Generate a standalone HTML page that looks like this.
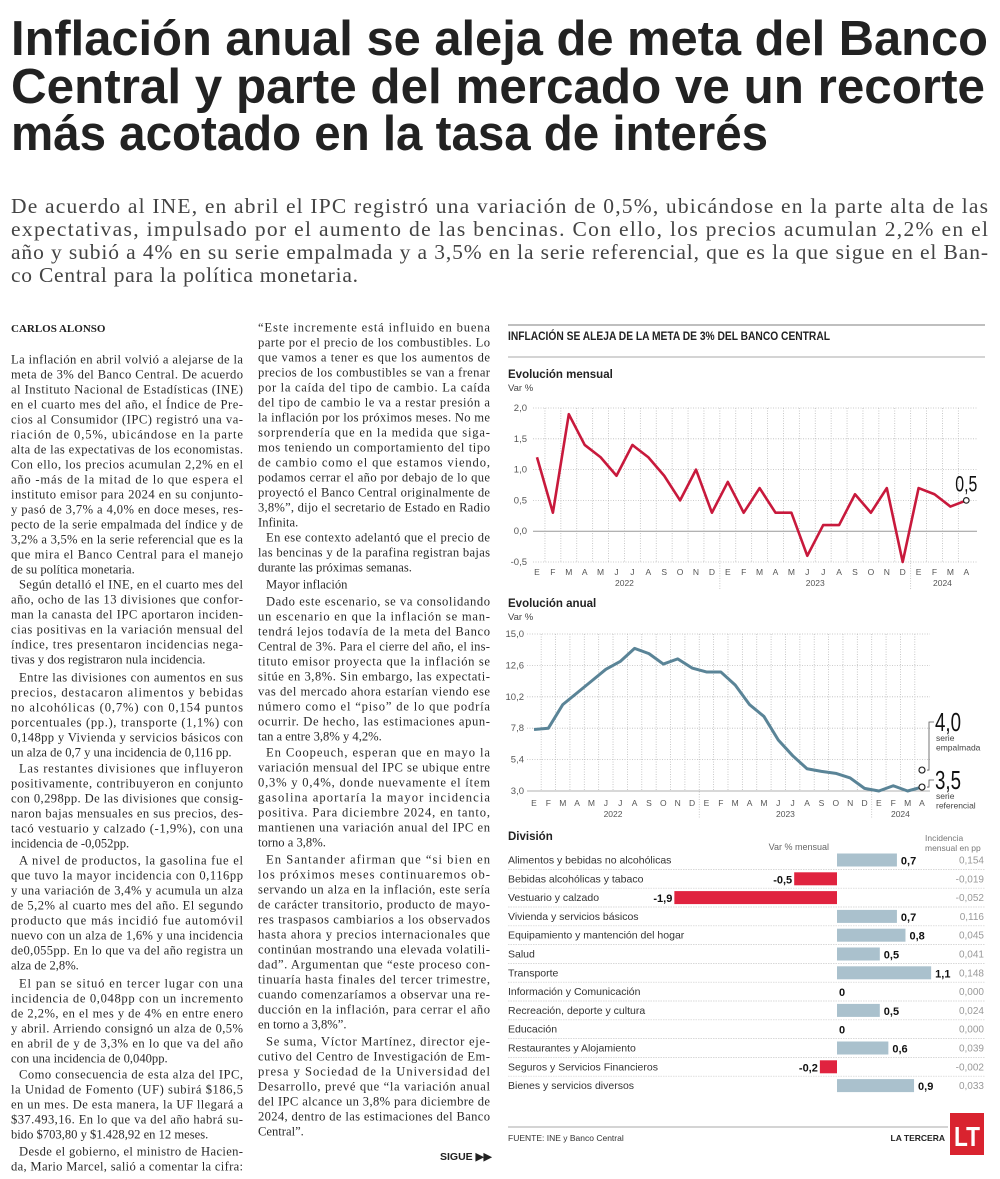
<!DOCTYPE html>
<html lang="es">
<head>
<meta charset="utf-8">
<style>
  html,body{margin:0;padding:0;background:#fff;}
  body{width:1000px;height:1179px;position:relative;overflow:hidden;font-family:"Liberation Sans",sans-serif;}
  svg{position:absolute;left:0;top:0;}
  .serif{font-family:"Liberation Serif",serif;}
  .body text{font-family:"Liberation Serif",serif;font-size:12.6px;fill:#2a2a2a;}
</style>
</head>
<body>
<svg id="page" width="1000" height="1179" viewBox="0 0 1000 1179">
  <!-- Headline -->
  <g font-family="Liberation Sans, sans-serif" font-weight="bold" font-size="49" fill="#222">
    <text x="11" y="55" textLength="977" lengthAdjust="spacingAndGlyphs">Inflación anual se aleja de meta del Banco</text>
    <text x="11" y="103" textLength="974" lengthAdjust="spacingAndGlyphs">Central y parte del mercado ve un recorte</text>
    <text x="11" y="150" textLength="757" lengthAdjust="spacingAndGlyphs">más acotado en la tasa de interés</text>
  </g>
  <!-- Subtitle -->
  <g font-family="Liberation Serif, serif" font-size="21.5" fill="#444">
    <text x="11" y="213" textLength="977" lengthAdjust="spacing">De acuerdo al INE, en abril el IPC registró una variación de 0,5%, ubicándose en la parte alta de las</text>
    <text x="11" y="236" textLength="977" lengthAdjust="spacing">expectativas, impulsado por el aumento de las bencinas. Con ello, los precios acumulan 2,2% en el</text>
    <text x="11" y="259" textLength="977" lengthAdjust="spacing">año y subió a 4% en su serie empalmada y a 3,5% en la serie referencial, que es la que sigue en el Ban-</text>
    <text x="11" y="282" textLength="347" lengthAdjust="spacing">co Central para la política monetaria.</text>
  </g>

  <text x="11" y="332" font-family="Liberation Serif, serif" font-size="11" font-weight="bold" fill="#222">CARLOS ALONSO</text>

  <!-- Column 1 -->
  <g class="body" id="col1" data-x="11" data-w="232">
    <g data-y="359" data-ind="0">
      <text>La inflación en abril volvió a alejarse de la</text>
      <text>meta de 3% del Banco Central. De acuerdo</text>
      <text>al Instituto Nacional de Estadísticas (INE)</text>
      <text>en el cuarto mes del año, el Índice de Pre-</text>
      <text>cios al Consumidor (IPC) registró una va-</text>
      <text>riación de 0,5%, ubicándose en la parte</text>
      <text>alta de las expectativas de los economistas.</text>
      <text>Con ello, los precios acumulan 2,2% en el</text>
      <text>año -más de la mitad de lo que espera el</text>
      <text>instituto emisor para 2024 en su conjunto-</text>
      <text>y pasó de 3,7% a 4,0% en doce meses, res-</text>
      <text>pecto de la serie empalmada del índice y de</text>
      <text>3,2% a 3,5% en la serie referencial que es la</text>
      <text>que mira el Banco Central para el manejo</text>
      <text>de su política monetaria.</text>
    </g>
    <g data-y="584" data-ind="8">
      <text>Según detalló el INE, en el cuarto mes del</text>
      <text>año, ocho de las 13 divisiones que confor-</text>
      <text>man la canasta del IPC aportaron inciden-</text>
      <text>cias positivas en la variación mensual del</text>
      <text>índice, tres presentaron incidencias nega-</text>
      <text>tivas y dos registraron nula incidencia.</text>
    </g>
    <g data-y="677" data-ind="8">
      <text>Entre las divisiones con aumentos en sus</text>
      <text>precios, destacaron alimentos y bebidas</text>
      <text>no alcohólicas (0,7%) con 0,154 puntos</text>
      <text>porcentuales (pp.), transporte (1,1%) con</text>
      <text>0,148pp y Vivienda y servicios básicos con</text>
      <text>un alza de 0,7 y una incidencia de 0,116 pp.</text>
    </g>
    <g data-y="768" data-ind="8">
      <text>Las restantes divisiones que influyeron</text>
      <text>positivamente, contribuyeron en conjunto</text>
      <text>con 0,298pp. De las divisiones que consig-</text>
      <text>naron bajas mensuales en sus precios, des-</text>
      <text>tacó vestuario y calzado (-1,9%), con una</text>
      <text>incidencia de -0,052pp.</text>
    </g>
    <g data-y="860" data-ind="8">
      <text>A nivel de productos, la gasolina fue el</text>
      <text>que tuvo la mayor incidencia con 0,116pp</text>
      <text>y una variación de 3,4% y acumula un alza</text>
      <text>de 5,2% al cuarto mes del año. El segundo</text>
      <text>producto que más incidió fue automóvil</text>
      <text>nuevo con un alza de 1,6% y una incidencia</text>
      <text>de0,055pp. En lo que va del año registra un</text>
      <text>alza de 2,8%.</text>
    </g>
    <g data-y="983" data-ind="8">
      <text>El pan se situó en tercer lugar con una</text>
      <text>incidencia de 0,048pp con un incremento</text>
      <text>de 2,2%, en el mes y de 4% en entre enero</text>
      <text>y abril. Arriendo consignó un alza de 0,5%</text>
      <text>en abril de y de 3,3% en lo que va del año</text>
      <text>con una incidencia de 0,040pp.</text>
    </g>
    <g data-y="1074" data-ind="8">
      <text>Como consecuencia de esta alza del IPC,</text>
      <text>la Unidad de Fomento (UF) subirá $186,5</text>
      <text>en un mes. De esta manera, la UF llegará a</text>
      <text>$37.493,16. En lo que va del año habrá su-</text>
      <text>bido $703,80 y $1.428,92 en 12 meses.</text>
    </g>
    <g data-y="1151" data-ind="8" data-lastjust="1">
      <text>Desde el gobierno, el ministro de Hacien-</text>
      <text>da, Mario Marcel, salió a comentar la cifra:</text>
    </g>
  </g>

  <!-- Column 2 -->
  <g class="body" id="col2" data-x="258" data-w="232">
    <g data-y="327" data-ind="0">
      <text>“Este incremente está influido en buena</text>
      <text>parte por el precio de los combustibles. Lo</text>
      <text>que vamos a tener es que los aumentos de</text>
      <text>precios de los combustibles se van a frenar</text>
      <text>por la caída del tipo de cambio. La caída</text>
      <text>del tipo de cambio le va a restar presión a</text>
      <text>la inflación por los próximos meses. No me</text>
      <text>sorprendería que en la medida que siga-</text>
      <text>mos teniendo un comportamiento del tipo</text>
      <text>de cambio como el que estamos viendo,</text>
      <text>podamos cerrar el año por debajo de lo que</text>
      <text>proyectó el Banco Central originalmente de</text>
      <text>3,8%”, dijo el secretario de Estado en Radio</text>
      <text>Infinita.</text>
    </g>
    <g data-y="537" data-ind="8">
      <text>En ese contexto adelantó que el precio de</text>
      <text>las bencinas y de la parafina registran bajas</text>
      <text>durante las próximas semanas.</text>
    </g>
    <g data-y="584" data-ind="8">
      <text>Mayor inflación</text>
    </g>
    <g data-y="601" data-ind="8">
      <text>Dado este escenario, se va consolidando</text>
      <text>un escenario en que la inflación se man-</text>
      <text>tendrá lejos todavía de la meta del Banco</text>
      <text>Central de 3%. Para el cierre del año, el ins-</text>
      <text>tituto emisor proyecta que la inflación se</text>
      <text>sitúe en 3,8%. Sin embargo, las expectati-</text>
      <text>vas del mercado ahora estarían viendo ese</text>
      <text>número como el “piso” de lo que podría</text>
      <text>ocurrir. De hecho, las estimaciones apun-</text>
      <text>tan a entre 3,8% y 4,2%.</text>
    </g>
    <g data-y="752" data-ind="8">
      <text>En Coopeuch, esperan que en mayo la</text>
      <text>variación mensual del IPC se ubique entre</text>
      <text>0,3% y 0,4%, donde nuevamente el ítem</text>
      <text>gasolina aportaría la mayor incidencia</text>
      <text>positiva. Para diciembre 2024, en tanto,</text>
      <text>mantienen una variación anual del IPC en</text>
      <text>torno a 3,8%.</text>
    </g>
    <g data-y="859" data-ind="8">
      <text>En Santander afirman que “si bien en</text>
      <text>los próximos meses continuaremos ob-</text>
      <text>servando un alza en la inflación, este sería</text>
      <text>de carácter transitorio, producto de mayo-</text>
      <text>res traspasos cambiarios a los observados</text>
      <text>hasta ahora y precios internacionales que</text>
      <text>continúan mostrando una elevada volatili-</text>
      <text>dad”. Argumentan que “este proceso con-</text>
      <text>tinuaría hasta finales del tercer trimestre,</text>
      <text>cuando comenzaríamos a observar una re-</text>
      <text>ducción en la inflación, para cerrar el año</text>
      <text>en torno a 3,8%”.</text>
    </g>
    <g data-y="1041" data-ind="8">
      <text>Se suma, Víctor Martínez, director eje-</text>
      <text>cutivo del Centro de Investigación de Em-</text>
      <text>presa y Sociedad de la Universidad del</text>
      <text>Desarrollo, prevé que “la variación anual</text>
      <text>del IPC alcance un 3,8% para diciembre de</text>
      <text>2024, dentro de las estimaciones del Banco</text>
      <text>Central”.</text>
    </g>
  </g>

  <!-- SIGUE -->
  <text x="440" y="1160" font-size="10.5" font-weight="bold" fill="#222">SIGUE ▶▶</text>

  <!-- Chart panel header -->
  <line x1="508" y1="325" x2="985" y2="325" stroke="#999" stroke-width="1.2"/>
  <text x="508" y="340" font-size="11.5" font-weight="bold" fill="#222" textLength="322" lengthAdjust="spacingAndGlyphs">INFLACIÓN SE ALEJA DE LA META DE 3% DEL BANCO CENTRAL</text>
  <line x1="508" y1="357" x2="985" y2="357" stroke="#aaa" stroke-width="1"/>

  <g id="monthly"></g>
  <g id="annual"></g>
  <g id="bars"></g>

  <!-- Footer -->
  <line x1="508" y1="1127" x2="948" y2="1127" stroke="#aaa" stroke-width="1"/>
  <text x="508" y="1141" font-size="8.5" fill="#333">FUENTE: INE y Banco Central</text>
  <text x="945" y="1141" font-size="8.5" font-weight="bold" fill="#222" text-anchor="end">LA TERCERA</text>
  <g>
    <rect x="950" y="1113" width="34" height="42" fill="#d9232f"/>
    <text x="967" y="1146" font-size="28" font-weight="bold" fill="#fff" text-anchor="middle" textLength="26" lengthAdjust="spacingAndGlyphs">LT</text>
  </g>
</svg>

<script>
// ---------- Monthly chart data ----------
const monthLabels = ["E","F","M","A","M","J","J","A","S","O","N","D","E","F","M","A","M","J","J","A","S","O","N","D","E","F","M","A"];
const yearLabels = ["2022","2023","2024"];
const monthlyValues = [1.2,0.3,1.9,1.4,1.2,0.9,1.4,1.2,0.9,0.5,1.0,0.3,0.8,0.3,0.7,0.3,0.3,-0.4,0.1,0.1,0.6,0.3,0.7,-0.5,0.7,0.6,0.4,0.5];
const monthlyTicks = [2.0,1.5,1.0,0.5,0.0,-0.5];
const monthlyTickLabels = ["2,0","1,5","1,0","0,5","0,0","-0,5"];
const monthlyLastLabel = "0,5";

// ---------- Annual chart data ----------
const annualValues = [7.7,7.8,9.6,10.5,11.4,12.3,12.9,13.9,13.5,12.7,13.1,12.4,12.1,12.1,11.1,9.6,8.7,6.9,5.7,4.7,4.5,4.35,4.0,3.2,3.0,3.4,3.0,3.3];
const annualTicks = [15.0,12.6,10.2,7.8,5.4,3.0];
const annualTickLabels = ["15,0","12,6","10,2","7,8","5,4","3,0"];
const annualEndMarkers = [4.6,3.3];
const annualEndLabels = ["4,0","3,5"];
const annualEndNotes = [["serie","empalmada"],["serie","referencial"]];

// ---------- Division bar data ----------
const divisions = ["Alimentos y bebidas no alcohólicas","Bebidas alcohólicas y tabaco","Vestuario y calzado","Vivienda y servicios básicos","Equipamiento y mantención del hogar","Salud","Transporte","Información y Comunicación","Recreación, deporte y cultura","Educación","Restaurantes y Alojamiento","Seguros y Servicios Financieros","Bienes y servicios diversos"];
const divisionValues = [0.7,-0.5,-1.9,0.7,0.8,0.5,1.1,0,0.5,0,0.6,-0.2,0.9];
const divisionValueLabels = ["0,7","-0,5","-1,9","0,7","0,8","0,5","1,1","0","0,5","0","0,6","-0,2","0,9"];
const divisionIncidence = ["0,154","-0,019","-0,052","0,116","0,045","0,041","0,148","0,000","0,024","0,000","0,039","-0,002","0,033"];

const NS = "http://www.w3.org/2000/svg";
function mk(parent, tag, attrs, txt){
  const e = document.createElementNS(NS, tag);
  for (const k in attrs) e.setAttribute(k, attrs[k]);
  if (txt !== undefined) e.textContent = txt;
  parent.appendChild(e);
  return e;
}

// ---------- Body text layout ----------
["col1","col2"].forEach(id=>{
  const col = document.getElementById(id);
  const x0 = +col.dataset.x, w = +col.dataset.w;
  col.querySelectorAll(":scope > g").forEach(p=>{
    const y0 = +p.dataset.y, ind = +p.dataset.ind;
    const lines = p.querySelectorAll("text");
    const lastJust = p.dataset.lastjust === "1";
    lines.forEach((t,i)=>{
      const x = x0 + (i===0 ? ind : 0);
      t.setAttribute("x", x);
      t.setAttribute("y", y0 + i*15 + 4.5);
      if (i < lines.length-1 || lastJust){
        t.setAttribute("textLength", (x0 + w) - x);
        t.setAttribute("lengthAdjust", "spacing");
      }
    });
  });
});

// ---------- Monthly chart ----------
(function(){
  const g = document.getElementById("monthly");
  mk(g,"text",{x:508,y:378,"font-size":11.5,"font-weight":"bold",fill:"#222"},"Evolución mensual");
  mk(g,"text",{x:508,y:391,"font-size":9.5,fill:"#444"},"Var %");
  const x0 = 537, dx = 15.9;
  const X = i => x0 + i*dx;
  const Y = v => 408 + (2.0 - v) * (154/2.5);
  const left = 533, right = 977;
  // vertical grid
  for (let i=0;i<monthLabels.length;i++){
    const xv = X(i)+dx/2;
    if (i === monthLabels.length-1) continue;
    const yearSep = (i===11 || i===23);
    const l = mk(g,"line",{x1:xv,y1:Y(2.0),x2:xv,y2:yearSep?589:Y(-0.5),stroke:"#bbb","stroke-width":0.8,"stroke-dasharray":"1,1.5"});
    
    
  }
  monthlyTicks.forEach((t,i)=>{
    const l = mk(g,"line",{x1:left,y1:Y(t),x2:right,y2:Y(t),stroke:t===0?"#999":"#bbb","stroke-width":t===0?1:0.8,"stroke-dasharray":t===0?"none":"1,1.5"});
    
    
    const tx = mk(g,"text",{x:527,y:Y(t)+3,"font-size":9.5,fill:"#555","text-anchor":"end"},monthlyTickLabels[i]);
    
    
  });
  monthLabels.forEach((m,i)=>{
    const tx = mk(g,"text",{x:X(i),y:575,"font-size":8.5,fill:"#555","text-anchor":"middle"},m);
    
    
  });
  [[0,11],[12,23],[24,27]].forEach((r,k)=>{
    const tx = mk(g,"text",{x:(X(r[0])+X(r[1]))/2,y:586,"font-size":8.5,fill:"#555","text-anchor":"middle"},yearLabels[k]);
    
    
  });
  const pts = monthlyValues.map((v,i)=>X(i)+","+Y(v)).join(" ");
  const pl = mk(g,"polyline",{points:pts,fill:"none",stroke:"#c8193c","stroke-width":2.6,"stroke-linejoin":"round"});
  
  
  const n = monthlyValues.length-1;
  const c = mk(g,"circle",{cx:X(n),cy:Y(monthlyValues[n]),r:2.8,fill:"#fff",stroke:"#222","stroke-width":1.2});
  
  
  const lt = mk(g,"text",{x:X(n),y:Y(monthlyValues[n])-9,"font-size":22,fill:"#111","text-anchor":"middle",textLength:22,lengthAdjust:"spacingAndGlyphs"},monthlyLastLabel);
  
  
})();

// ---------- Annual chart ----------
(function(){
  const g = document.getElementById("annual");
  mk(g,"text",{x:508,y:607,"font-size":11.5,"font-weight":"bold",fill:"#222"},"Evolución anual");
  mk(g,"text",{x:508,y:620,"font-size":9.5,fill:"#444"},"Var %");
  const x0 = 534, dx = 14.37;
  const X = i => x0 + i*dx;
  const Y = v => 634 + (15 - v) * (157/12);
  const left = 527, right = 930;
  for (let i=0;i<monthLabels.length-1;i++){
    const xv = X(i)+dx/2;
    const yearSep = (i===11 || i===23);
    const l = mk(g,"line",{x1:xv,y1:Y(15),x2:xv,y2:yearSep?818:Y(3),stroke:"#bbb","stroke-width":0.8,"stroke-dasharray":"1,1.5"});
    
    
  }
  annualTicks.forEach((t,i)=>{
    const l = mk(g,"line",{x1:left,y1:Y(t),x2:right,y2:Y(t),stroke:i===annualTicks.length-1?"#999":"#bbb","stroke-width":0.8,"stroke-dasharray":i===annualTicks.length-1?"none":"1,1.5"});
    
    
    const tx = mk(g,"text",{x:524,y:Y(t)+3,"font-size":9.5,fill:"#555","text-anchor":"end"},annualTickLabels[i]);
    
    
  });
  monthLabels.forEach((m,i)=>{
    const tx = mk(g,"text",{x:X(i),y:806,"font-size":8.5,fill:"#555","text-anchor":"middle"},m);
    
    
  });
  [[0,11],[12,23],[24,27]].forEach((r,k)=>{
    const tx = mk(g,"text",{x:(X(r[0])+X(r[1]))/2,y:817,"font-size":8.5,fill:"#555","text-anchor":"middle"},yearLabels[k]);
    
    
  });
  const pts = annualValues.map((v,i)=>X(i)+","+Y(v)).join(" ");
  const pl = mk(g,"polyline",{points:pts,fill:"none",stroke:"#5a8497","stroke-width":3,"stroke-linejoin":"round"});
  
  
  const n = annualValues.length-1;
  const labelY = [722, 780];
  annualEndMarkers.forEach((v,k)=>{
    const cy = Y(v);
    const c = mk(g,"circle",{cx:X(n),cy:cy,r:3,fill:"#fff",stroke:"#222","stroke-width":1.2});
    
    
    const ly = labelY[k];
    const p = mk(g,"polyline",{points:`${X(n)+5},${cy} 929,${cy} 929,${ly} 934,${ly}`,fill:"none",stroke:"#555","stroke-width":0.8});
    
    
    const t = mk(g,"text",{x:935,y:ly+9,"font-size":26,fill:"#111",textLength:26,lengthAdjust:"spacingAndGlyphs"},annualEndLabels[k]);
    
    
    annualEndNotes[k].forEach((s,j)=>{
      const nt = mk(g,"text",{x:936,y:ly+19+j*9.5,"font-size":8.5,fill:"#444"},s);
      
      
    });
  });
})();

// ---------- Division bars ----------
(function(){
  const g = document.getElementById("bars");
  mk(g,"text",{x:508,y:840,"font-size":11.5,"font-weight":"bold",fill:"#222"},"División");
  mk(g,"text",{x:829,y:850,"font-size":9,fill:"#666","text-anchor":"end"},"Var % mensual");
  mk(g,"text",{x:925,y:841,"font-size":8.5,fill:"#777"},"Incidencia");
  mk(g,"text",{x:925,y:851,"font-size":8.5,fill:"#777"},"mensual en pp");
  const zero = 837, scale = 85.6;
  const V = v => zero + v*scale;
  const rowY = i => 860 + i*18.8;
  divisions.forEach((d,i)=>{
    const cy = rowY(i);
    if (i < divisions.length-1){
      const sep = mk(g,"line",{x1:508,y1:cy+9.4,x2:985,y2:cy+9.4,stroke:"#ccc","stroke-width":0.7,"stroke-dasharray":"1.5,1"});
      
      
    }
    const lab = mk(g,"text",{x:508,y:cy+3.5,"font-size":10.5,fill:"#333"},d);
    
    
    const v = divisionValues[i];
    if (v !== 0){
      const x1 = Math.min(V(0),V(v)), w = Math.abs(V(v)-V(0));
      const r = mk(g,"rect",{x:x1,y:cy-6.5,width:w,height:13,fill:v>0?"#aac1cd":"#e0233f"});
      
      
    }
    const vl = mk(g,"text",{x:v>=0?V(v)+(v===0?2:4):V(v)-2,y:cy+4.5,"font-size":11,"font-weight":"bold",fill:"#111","text-anchor":v>=0?"start":"end"},divisionValueLabels[i]);
    
    
    const inc = mk(g,"text",{x:984,y:cy+3.5,"font-size":10,fill:"#999","text-anchor":"end"},divisionIncidence[i]);
    
    
  });
})();
</script>
</body>
</html>
